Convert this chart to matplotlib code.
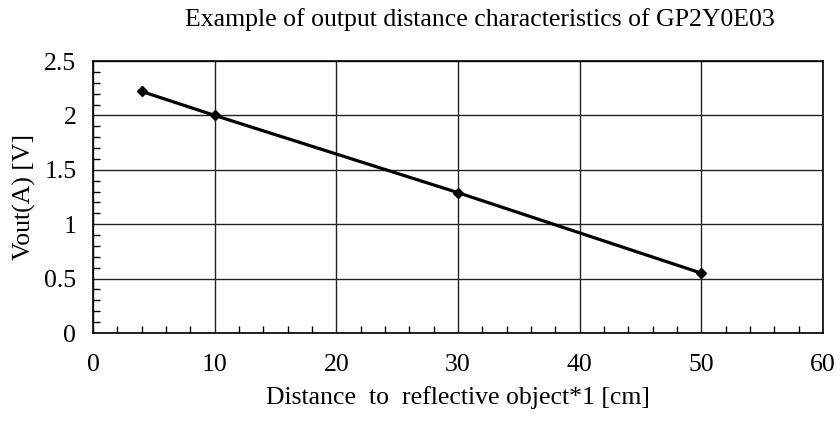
import matplotlib
matplotlib.use("Agg")
import matplotlib.pyplot as plt
from matplotlib.ticker import MultipleLocator, FuncFormatter

distance_cm = [4, 10, 30, 50]
vout_v = [2.22, 2.00, 1.29, 0.55]

plt.rcParams['font.family'] = ['Liberation Serif', 'DejaVu Serif']

fig = plt.figure(figsize=(8.4, 4.22), dpi=100)
ax = fig.add_axes([93/840, 1-333/422, (823-93)/840, (333-61)/422])

ax.plot(distance_cm, vout_v, color='black', lw=2.3, marker='D', ms=5, zorder=3)

ax.set_xlim(0, 60)
ax.set_ylim(0, 2.5)
ax.xaxis.set_major_locator(MultipleLocator(10))
ax.xaxis.set_minor_locator(MultipleLocator(2))
ax.yaxis.set_major_locator(MultipleLocator(0.5))
ax.yaxis.set_minor_locator(MultipleLocator(0.1))
ax.yaxis.set_major_formatter(FuncFormatter(lambda v, p: f"{v:g}"))
ax.grid(True, which='major', color='#222222', lw=1.0)
ax.tick_params(which='major', direction='in', length=0, labelsize=18.5)
ax.tick_params(axis='x', pad=15)
ax.tick_params(axis='y', pad=12)
ax.tick_params(which='minor', direction='in', length=5, width=1, color='black')
for s in ax.spines.values():
    s.set_color('black')
    s.set_linewidth(1.2)

ax.set_xlabel('Distance  to  reflective object*1 [cm]', fontsize=18.5, labelpad=7)
ax.set_ylabel('Vout(A) [V]', fontsize=18.5, labelpad=6)
fig.text(480/840, 1-20/422, 'Example of output distance characteristics of GP2Y0E03',
         ha='center', va='center', fontsize=18.5)

fig.savefig('out.png', dpi=100)
